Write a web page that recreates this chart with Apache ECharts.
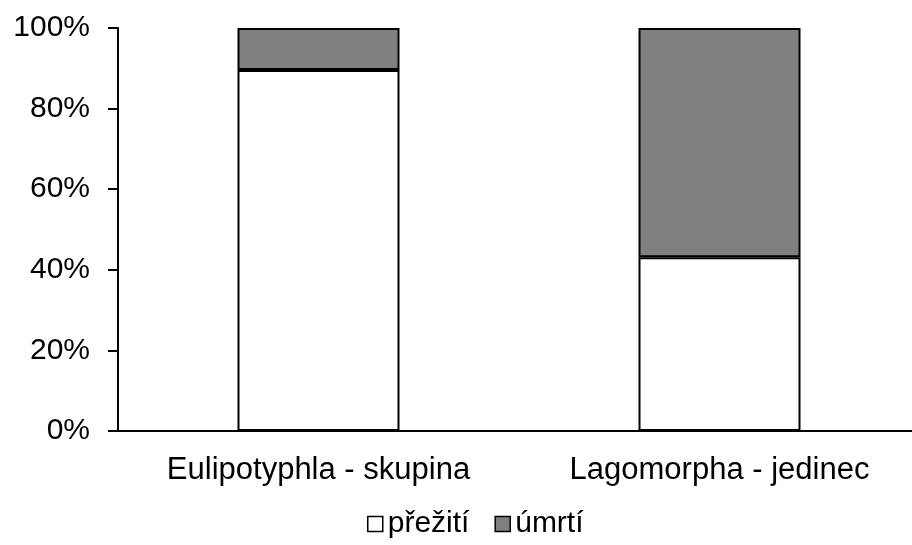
<!DOCTYPE html>
<html>
<head>
<meta charset="utf-8">
<script src="https://cdn.jsdelivr.net/npm/echarts@6/dist/echarts.min.js"></script>
<style>html,body{margin:0;padding:0;background:#fff;overflow:hidden;}#c{width:920px;height:545px;}</style>
</head>
<body>
<div id="c"></div>
<script>
const categories = ['Eulipotyphla - skupina', 'Lagomorpha - jedinec'];
const seriesNames = ['přežití', 'úmrtí'];
const survival = [89.6, 43.1];
const death = [10.4, 56.9];
const yTicks = [0, 20, 40, 60, 80, 100];

const FONT = 'Liberation Sans';
const FS = 30;
const chart = echarts.init(document.getElementById('c'), null, {renderer: 'canvas'});
chart.setOption({
  animation: false,
  backgroundColor: '#ffffff',
  grid: {left: 118, top: 28, right: 0, bottom: 114, containLabel: false},
  legend: {
    bottom: 1, left: 362,
    itemWidth: 15, itemHeight: 15, itemGap: 25,
    icon: 'rect',
    textStyle: {fontFamily: FONT, fontSize: FS, color: '#000', padding: [0, 0, 0, 0]},
    data: [
      {name: seriesNames[0], itemStyle: {color: '#ffffff', borderColor: '#000', borderWidth: 1.5}},
      {name: seriesNames[1], itemStyle: {color: '#808080', borderColor: '#000', borderWidth: 1.5}}
    ]
  },
  xAxis: {
    type: 'category',
    data: categories,
    axisLine: {lineStyle: {color: '#000', width: 2}},
    axisTick: {show: false},
    axisLabel: {fontFamily: FONT, fontSize: 31, color: '#000', margin: 24}
  },
  yAxis: {
    type: 'value',
    min: 0, max: 100, interval: 20,
    splitLine: {show: false},
    axisLine: {show: true, lineStyle: {color: '#000', width: 2}},
    axisTick: {show: true, length: 10, lineStyle: {color: '#000', width: 2}},
    axisLabel: {fontFamily: FONT, fontSize: FS, color: '#000', margin: 28,
      formatter: v => yTicks.includes(v) ? v + '%' : ''}
  },
  series: [
    {name: seriesNames[0], type: 'bar', stack: 's', data: survival, barWidth: 162,
      itemStyle: {color: '#ffffff', borderColor: '#000', borderWidth: 2}},
    {name: seriesNames[1], type: 'bar', stack: 's', data: death, barWidth: 162,
      itemStyle: {color: '#808080', borderColor: '#000', borderWidth: 2}}
  ]
});
</script>
</body>
</html>
